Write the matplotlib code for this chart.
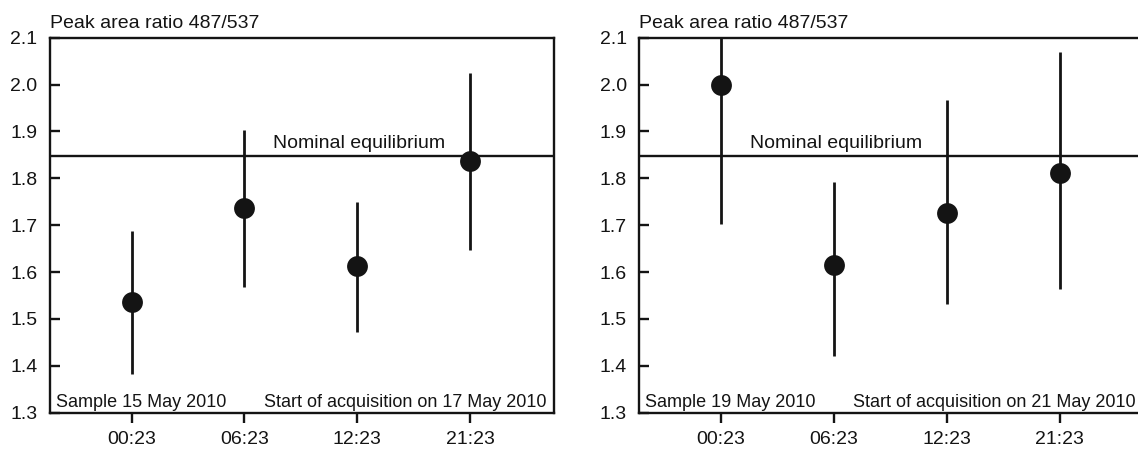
import numpy as np
import matplotlib.pyplot as plt

plt.rcParams['font.family'] = ['Liberation Sans', 'DejaVu Sans']

# time-of-day labels shared by both panels
times = ['00:23', '06:23', '12:23', '21:23']

# panel 1: sample 15 May, acquisition 17 May
ratio_a = [1.536, 1.736, 1.613, 1.838]
low_a = [1.382, 1.569, 1.473, 1.647]
high_a = [1.688, 1.903, 1.750, 2.025]

# panel 2: sample 19 May, acquisition 21 May
ratio_b = [2.000, 1.616, 1.727, 1.812]
low_b = [1.702, 1.421, 1.531, 1.563]
high_b = [2.300, 1.793, 1.967, 2.070]

nominal = 1.848

panels = [
    (ratio_a, low_a, high_a, 'Sample 15 May 2010', 'Start of acquisition on 17 May 2010', 2.253),
    (ratio_b, low_b, high_b, 'Sample 19 May 2010', 'Start of acquisition on 21 May 2010', 1.257),
]

ink = '#141414'
fs = 14

fig = plt.figure(figsize=(11.38, 4.5), dpi=100)
lefts = [50 / 1138, 639.3 / 1138]

for left, (vals, lo, hi, sample_txt, start_txt, nom_x) in zip(lefts, panels):
    ax = fig.add_axes([left, 0.0829, 504 / 1138, 0.8333])
    x = np.arange(1, len(times) + 1)
    vals = np.array(vals)
    yerr = [vals - np.array(lo), np.array(hi) - vals]
    ax.errorbar(x, vals, yerr=yerr, fmt='o', color=ink, ms=15, mew=0,
                elinewidth=2.0, capsize=0, zorder=3)
    ax.axhline(nominal, color=ink, lw=1.7, zorder=2)
    ax.text(nom_x, 1.865, 'Nominal equilibrium', fontsize=fs, color=ink,
            va='baseline', ha='left')

    ax.set_xlim(0.278, 4.741)
    ax.set_ylim(1.3, 2.1)
    ax.set_xticks(x)
    ax.set_xticklabels(times)
    yt = np.arange(1.3, 2.11, 0.1)
    ax.set_yticks(yt)
    ax.set_yticklabels([f'{v:.1f}' for v in yt])

    ax.tick_params(axis='y', direction='in', length=7, width=1.7,
                   pad=9, labelsize=fs, colors=ink)
    ax.tick_params(axis='x', direction='out', length=7, width=1.7,
                   pad=6, labelsize=fs, colors=ink)
    for s in ax.spines.values():
        s.set_linewidth(1.7)
        s.set_color(ink)

    ax.text(0, 1.027, 'Peak area ratio 487/537', transform=ax.transAxes,
            fontsize=fs, color=ink, ha='left', va='baseline')
    ax.text(0.0115, 0.016, sample_txt, transform=ax.transAxes,
            fontsize=13, color=ink, ha='left', va='baseline')
    ax.text(0.9855, 0.016, start_txt, transform=ax.transAxes,
            fontsize=13, color=ink, ha='right', va='baseline')

fig.savefig('out.png', dpi=100)
